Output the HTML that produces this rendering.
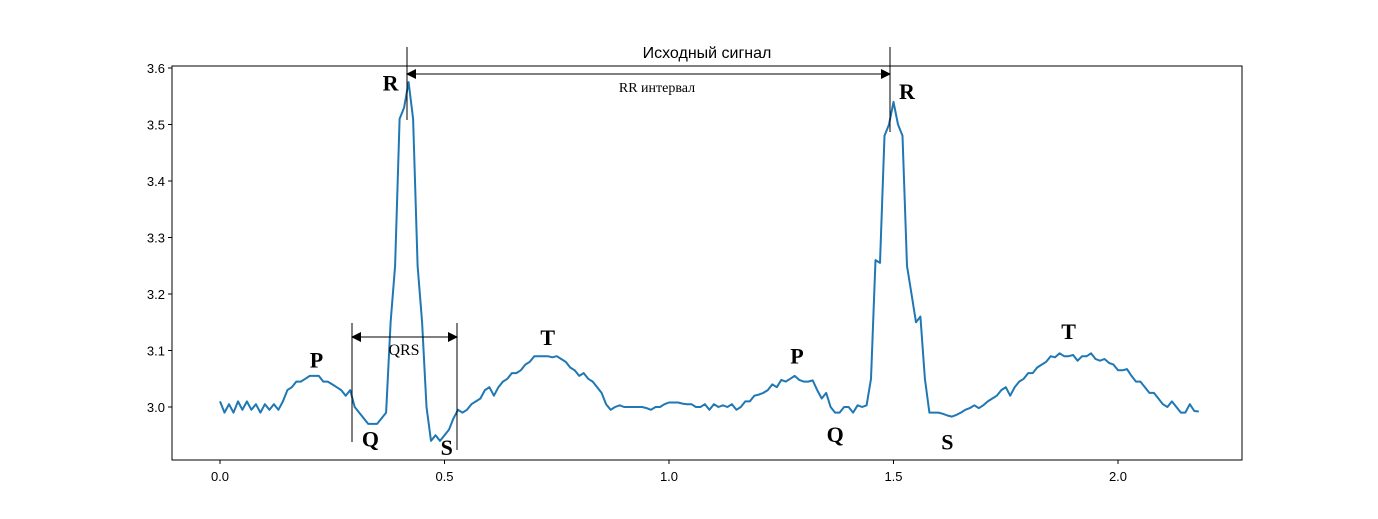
<!DOCTYPE html>
<html><head><meta charset="utf-8"><style>
body{margin:0;background:#fff;}
svg text{font-family:"Liberation Sans",sans-serif;}
.ser{font-family:"Liberation Serif",serif;}
</style></head><body>
<svg id="c" width="1378" height="514" xmlns="http://www.w3.org/2000/svg">
<defs><marker id="ah" markerWidth="10" markerHeight="10" refX="9" refY="5" orient="auto-start-reverse" markerUnits="userSpaceOnUse"><path d="M0,0 L10,5 L0,10 z" fill="#000"/></marker></defs>
</svg>
<script>
const xStart = 0, xStep = 0.01;
const signal = [3.01,2.99,3.005,2.99,3.01,2.995,3.01,2.995,3.005,2.99,3.005,2.995,3.005,2.995,
3.01,3.03,3.035,3.045,3.045,3.05,3.055,3.055,3.055,3.045,3.045,3.04,3.035,3.03,3.02,3.03,
3.0,2.99,2.98,2.97,2.97,2.97,2.98,2.99,3.15,3.25,3.51,3.53,3.575,3.51,3.25,3.15,3.0,2.94,2.95,2.94,
2.95,2.96,2.98,2.995,2.99,2.995,3.005,3.01,3.015,3.03,3.035,3.02,3.035,3.045,3.05,3.06,3.06,3.065,3.075,3.08,
3.09,3.09,3.09,3.09,3.088,3.09,3.085,3.08,3.07,3.065,3.055,3.06,3.05,3.045,3.035,3.025,3.005,2.995,3.0,3.003,
3.0,3.0,3.0,3.0,3.0,2.998,2.995,3.0,3.0,3.005,3.008,3.008,3.008,3.006,3.005,3.005,3.0,3.0,3.005,2.995,
3.005,3.0,3.003,3.0,3.005,2.995,3.0,3.01,3.01,3.02,3.022,3.025,3.03,3.04,3.035,3.048,3.045,3.05,3.055,3.048,
3.045,3.045,3.047,3.03,3.015,3.025,3.0,2.99,2.99,3.0,3.0,2.99,3.003,3.0,3.003,3.05,3.26,3.255,3.48,3.5,
3.54,3.5,3.48,3.25,3.2,3.15,3.16,3.05,2.99,2.99,2.99,2.988,2.985,2.983,2.986,2.99,2.995,2.998,3.003,2.998,
3.003,3.01,3.015,3.02,3.03,3.035,3.02,3.035,3.045,3.05,3.06,3.06,3.07,3.075,3.08,3.09,3.088,3.095,3.09,3.09,
3.092,3.082,3.09,3.09,3.095,3.085,3.082,3.085,3.078,3.075,3.065,3.065,3.067,3.055,3.045,3.045,3.035,3.025,3.025,3.015,
3.005,3.0,3.01,3.0,2.99,2.99,3.005,2.993,2.992];
const xTicks = [0.0,0.5,1.0,1.5,2.0];
const xTickLabels = ["0.0","0.5","1.0","1.5","2.0"];
const yTicks = [3.0,3.1,3.2,3.3,3.4,3.5,3.6];
const yTickLabels = ["3.0","3.1","3.2","3.3","3.4","3.5","3.6"];
const waveLabels = ["R","R","P","Q","S","T","P","Q","S","T"];
const waveX = [0.38,1.53,0.215,0.335,0.505,0.73,1.285,1.37,1.62,1.89];
const waveY = [3.56,3.545,3.07,2.93,2.915,3.11,3.077,2.938,2.925,3.12];

const L=172,R=1242,T=66,B=460;
const X=v=>220+v*449, Y=v=>407-(v-3.0)*565;
const svg=document.getElementById('c'), NS='http://www.w3.org/2000/svg';
function mk(tag,attrs,parent){const e=document.createElementNS(NS,tag);for(const k in attrs)e.setAttribute(k,attrs[k]);(parent||svg).appendChild(e);return e;}

let frame=mk('rect',{x:L,y:T,width:R-L,height:B-T,fill:'none',stroke:'#000','stroke-width':1});



xTicks.forEach((v,i)=>{
  const t=mk('line',{x1:X(v),x2:X(v),y1:B,y2:B+4,stroke:'#000'});
  
  
  const l=mk('text',{x:X(v),y:B+21,'font-size':13,'text-anchor':'middle'});
  l.textContent=xTickLabels[i];
  
  
});
yTicks.forEach((v,i)=>{
  const t=mk('line',{x1:L-4,x2:L,y1:Y(v),y2:Y(v),stroke:'#000'});
  
  
  const l=mk('text',{x:L-7,y:Y(v)+5,'font-size':13,'text-anchor':'end'});
  l.textContent=yTickLabels[i];
  
  
});

const pts=signal.map((v,i)=>X(xStart+i*xStep).toFixed(1)+','+Y(v).toFixed(1)).join(' ');
const line=mk('polyline',{points:pts,fill:'none',stroke:'#1f77b4','stroke-width':2,'stroke-linejoin':'round'});



const title=mk('text',{x:707,y:58,'font-size':16,'text-anchor':'middle'});
title.textContent='Исходный сигнал';



[[407,47,120],[890,47,132],[352,323,442],[457,323,450]].forEach(a=>{
  const v=mk('line',{x1:a[0],x2:a[0],y1:a[1],y2:a[2],stroke:'#000','stroke-width':1});
  
  
});
const rr=mk('line',{x1:407,x2:890,y1:74,y2:74,stroke:'#000','marker-start':'url(#ah)','marker-end':'url(#ah)'});


const rrt=mk('text',{x:657,y:92,'font-size':14,'text-anchor':'middle',class:'ser'});
rrt.textContent='RR интервал';


const qa=mk('line',{x1:352,x2:457,y1:337,y2:337,stroke:'#000','marker-start':'url(#ah)','marker-end':'url(#ah)'});


const qt=mk('text',{x:404,y:355,'font-size':16,'text-anchor':'middle',class:'ser'});
qt.textContent='QRS';



waveLabels.forEach((s,i)=>{
  const t=mk('text',{x:X(waveX[i]),y:Y(waveY[i]),'font-size':22,'font-weight':'bold','text-anchor':'middle',class:'ser'});
  t.textContent=s;
  
  
});
</script>
</body></html>
